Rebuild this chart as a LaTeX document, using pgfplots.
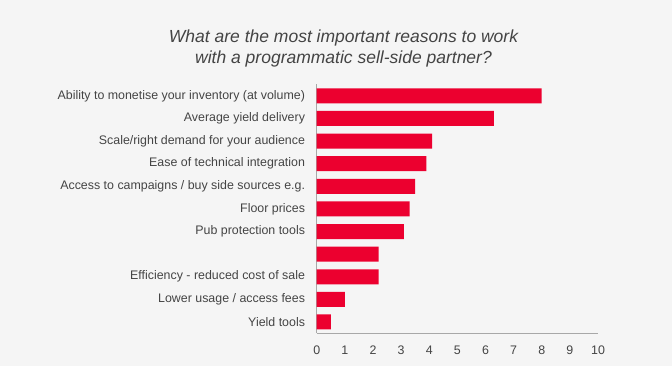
\documentclass[border=0pt]{standalone}
\usepackage{fontspec}
\setmainfont{Liberation Sans}
\usepackage{pgfplots}
\pgfplotsset{compat=1.18}
\definecolor{bg}{HTML}{F5F5F5}
\definecolor{barred}{HTML}{EC002F}
\definecolor{txt}{HTML}{444444}
\definecolor{axl}{HTML}{A8A8A8}
\begin{document}
\begin{tikzpicture}
\fill[bg] (0,0) rectangle (672pt,366pt);
\useasboundingbox (0,0) rectangle (672pt,366pt);
\node[align=center, text=txt, font=\fontsize{17.5}{21}\selectfont\itshape] at (343.5pt,317.5pt)
  {What are the most important reasons to work\\with a programmatic sell-side partner?};
\begin{axis}[
  at={(316.7pt,32.7pt)}, anchor=south west,
  scale only axis, width=281.3pt, height=248.8pt,
  xbar, bar width=15pt,
  xmin=0, xmax=10, ymin=-0.5, ymax=10.5,
  y dir=reverse,
  axis x line=bottom, axis y line=left,
  axis line style={axl, line width=0.8pt, -},
  major tick length=0pt,
  xtick={0,1,...,10},
  ytick={0,1,...,10},
  yticklabels={Ability to monetise your inventory (at volume),Average yield delivery,Scale/right demand for your audience,Ease of technical integration,Access to campaigns / buy side sources e.g.,Floor prices,Pub protection tools,{},Efficiency - reduced cost of sale,Lower usage / access fees,Yield tools},
  yticklabel style={inner sep=0pt, xshift=-11.5pt, font=\fontsize{12.4}{14}\selectfont, text=txt},
  xticklabel style={inner sep=0pt, yshift=-12pt, font=\fontsize{12.4}{14}\selectfont, text=txt},
  /pgf/number format/assume math mode=true,
  axis background/.style={fill=bg},
]
\addplot[fill=barred, draw=none] coordinates {
(8.0,0) (6.3,1) (4.1,2) (3.9,3) (3.5,4) (3.3,5) (3.1,6) (2.2,7) (2.2,8) (1.0,9) (0.5,10)};
\end{axis}
\end{tikzpicture}
\end{document}
